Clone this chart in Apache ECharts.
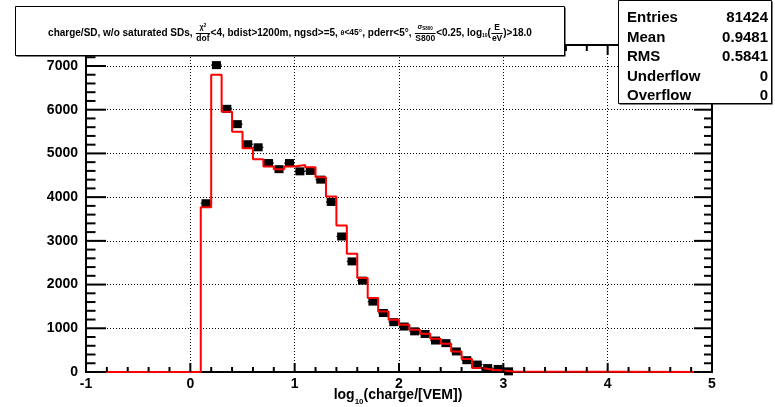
<!DOCTYPE html>
<html>
<head>
<meta charset="utf-8">
<script src="https://cdn.jsdelivr.net/npm/echarts@6/dist/echarts.min.js"></script>
<style>
  html, body { margin: 0; padding: 0; background: #fff; }
  #chart { width: 775px; height: 407px; }
</style>
</head>
<body>
<div id="chart"></div>
<script>
// Histogram binning: lower edges of the filled bins (width 0.1 in log10 charge)
const binWidth = 0.1;
const binLow = [0.1, 0.2, 0.3, 0.4, 0.5, 0.6, 0.7, 0.8, 0.9, 1.0,
                1.1, 1.2, 1.3, 1.4, 1.5, 1.6, 1.7, 1.8, 1.9, 2.0,
                2.1, 2.2, 2.3, 2.4, 2.5, 2.6, 2.7, 2.8, 2.9, 3.0];

// Measured counts per bin (black markers)
const dataCounts = [3860, 7020, 6020, 5670, 5210, 5140, 4780, 4640, 4780, 4590,
                    4600, 4400, 3890, 3100, 2530, 2090, 1610, 1350, 1140, 1040,
                    930, 870, 720, 660, 470, 270, 170, 90, 70, 15];

// Simulated counts per bin (red outline)
const mcCounts = [3770, 6800, 5955, 5498, 5119, 4867, 4699, 4639, 4699, 4737,
                  4685, 4456, 4013, 3350, 2703, 2148, 1691, 1385, 1195, 1081,
                  967, 875, 761, 647, 471, 297, 91, 53, 37, 14];

// Axis ranges and tick positions
const xRange = [-1, 5];
const yRange = [0, 7480];
const xMajorTicks = [-1, 0, 1, 2, 3, 4, 5];
const xMinorTicks = [-0.8, -0.6, -0.4, -0.2, 0.2, 0.4, 0.6, 0.8, 1.2, 1.4, 1.6, 1.8,
                     2.2, 2.4, 2.6, 2.8, 3.2, 3.4, 3.6, 3.8, 4.2, 4.4, 4.6, 4.8];
const yMajorTicks = [0, 1000, 2000, 3000, 4000, 5000, 6000, 7000];
const yMinorTicks = [200, 400, 600, 800, 1200, 1400, 1600, 1800, 2200, 2400, 2600, 2800,
                     3200, 3400, 3600, 3800, 4200, 4400, 4600, 4800, 5200, 5400, 5600, 5800,
                     6200, 6400, 6600, 6800, 7200, 7400];

// Statistics box
const statNames = ['Entries', 'Mean', 'RMS', 'Underflow', 'Overflow'];
const statValues = ['81424', '0.9481', '0.5841', '0', '0'];

const FONT = '"Liberation Sans", Arial, Helvetica, sans-serif';

// ---- outline of the simulated histogram as a step path ----
const mcPath = [[xRange[0], 0], [binLow[0], 0]];
binLow.forEach((lo, i) => {
  mcPath.push([lo, mcCounts[i]]);
  mcPath.push([lo + binWidth, mcCounts[i]]);
});
mcPath.push([binLow[binLow.length - 1] + binWidth, 0]);
mcPath.push([xRange[1], 0]);

const markerData = binLow.map((lo, i) => [lo + binWidth / 2, dataCounts[i]]);
const errData = binLow.map((lo, i) => [lo, lo + binWidth, dataCounts[i]]);

// frame ticks: [x, y, kind] with kind 1 = major, 0 = minor
const yTickData = yMajorTicks.map(v => [xRange[0], v, 1]).concat(yMinorTicks.map(v => [xRange[0], v, 0]));
const xTickData = xMajorTicks.map(v => [v, yRange[0], 1]).concat(xMinorTicks.map(v => [v, yRange[0], 0]));

// ---- small text layout helper for formula-like labels ----
const measureCtx = document.createElement('canvas').getContext('2d');
function fontOf(size) { return 'bold ' + size + 'px ' + FONT; }
function textW(t, size) { measureCtx.font = fontOf(size); return measureCtx.measureText(t).width; }
function runW(list) { return list.reduce((a, k) => a + textW(k.t, k.s), 0); }
function tokW(k) {
  if (k.num) return Math.max(runW(k.num), runW(k.den)) + 2;
  return textW(k.t, k.s);
}
function textEl(t, s, x, y) {
  return { type: 'text', silent: true, z: 100,
    style: { text: t, x: x, y: y, font: fontOf(s), fill: '#000',
             align: 'left', verticalAlign: 'middle', textAlign: 'left', textVerticalAlign: 'middle' } };
}
function layoutRun(list, x, y, out) {
  list.forEach(k => { out.push(textEl(k.t, k.s, x, y + (k.dy || 0))); x += textW(k.t, k.s); });
}
function layoutLine(tokens, cx, cy, fracGap) {
  const out = [];
  const total = tokens.reduce((a, k) => a + tokW(k), 0);
  let x = cx - total / 2;
  tokens.forEach(k => {
    const w = tokW(k);
    if (k.num) {
      const nw = runW(k.num), dw = runW(k.den);
      layoutRun(k.num, x + (w - nw) / 2, cy - fracGap, out);
      layoutRun(k.den, x + (w - dw) / 2, cy + fracGap, out);
      out.push({ type: 'line', silent: true, z: 100,
        shape: { x1: x + 0.5, y1: cy + 0.5, x2: x + w - 0.5, y2: cy + 0.5 },
        style: { stroke: '#000', lineWidth: 1 } });
    } else {
      out.push(textEl(k.t, k.s, x, cy + (k.dy || 0)));
    }
    x += w;
  });
  return out;
}

const M = 10;
const titleTokens = [
  { t: 'charge/SD, w/o saturated SDs, ', s: M },
  { num: [{ t: 'χ', s: 7 }, { t: '2', s: 5, dy: -2 }], den: [{ t: 'dof', s: 8.5 }] },
  { t: '<4, bdist>1200m, ngsd>=5, ', s: M },
  { t: 'θ', s: 7 },
  { t: '<45°', s: 8.5 },
  { t: ', pderr<5°, ', s: M },
  { num: [{ t: 'σ', s: 7 }, { t: 'S800', s: 4.5, dy: 1.5 }], den: [{ t: 'S800', s: 8.5 }] },
  { t: '<0.25, log', s: M },
  { t: '10', s: 5, dy: 3 },
  { t: '(', s: M },
  { num: [{ t: 'E', s: 8.5 }], den: [{ t: 'eV', s: 8.5 }] },
  { t: ')>18.0', s: M }
];

const axisTitleTokens = [
  { t: 'log', s: 14 },
  { t: '10', s: 8, dy: 7 },
  { t: '(charge/[VEM])', s: 14 }
];

const graphics = [];
// title box with a thin drop shadow
graphics.push({ type: 'rect', silent: true, z: 90, shape: { x: 16.5, y: 7.5, width: 549, height: 49 }, style: { fill: '#000' } });
graphics.push({ type: 'rect', silent: true, z: 91, shape: { x: 15.5, y: 6.5, width: 549, height: 49 }, style: { fill: '#fff', stroke: '#000', lineWidth: 1 } });
graphics.push(...layoutLine(titleTokens, 290, 33, 5.5));

// statistics box
graphics.push({ type: 'rect', silent: true, z: 90, shape: { x: 619.5, y: 1.5, width: 153, height: 103 }, style: { fill: '#000' } });
graphics.push({ type: 'rect', silent: true, z: 91, shape: { x: 618.5, y: 0.5, width: 153, height: 103 }, style: { fill: '#fff', stroke: '#000', lineWidth: 1 } });
statNames.forEach((n, i) => {
  const y = 18 + i * 19.5;
  graphics.push({ type: 'text', silent: true, z: 100,
    style: { text: n, x: 627, y: y, font: fontOf(15), fill: '#000', align: 'left', verticalAlign: 'middle', textAlign: 'left', textVerticalAlign: 'middle' } });
  graphics.push({ type: 'text', silent: true, z: 100,
    style: { text: statValues[i], x: 768, y: y, font: fontOf(15), fill: '#000', align: 'right', verticalAlign: 'middle', textAlign: 'right', textVerticalAlign: 'middle' } });
});

// x axis title
graphics.push(...layoutLine(axisTitleTokens, 398, 395, 0));

const gridDots = { type: [1, 2], color: '#000', width: 1 };
const frameLine = { show: true, onZero: false, lineStyle: { color: '#000', width: 2 } };
const yLabel = v => (yMajorTicks.indexOf(v) >= 0 ? String(v) : '');

// tick lengths in pixels: [major, minor] for each side of the frame
const TICK = { left: [20, 9.5], right: [18, 8], bottom: [9, 5], top: [10, 6] };

const chart = echarts.init(document.getElementById('chart'), null, { renderer: 'canvas' });
chart.setOption({
  animation: false,
  backgroundColor: '#fff',
  grid: { left: 86, right: 63, top: 45, bottom: 35, containLabel: false },
  xAxis: [
    {
      type: 'value', position: 'bottom', min: xRange[0], max: xRange[1], interval: 1,
      axisLine: frameLine, axisTick: { show: false },
      axisLabel: { show: true, formatter: v => String(v), color: '#000', fontFamily: FONT, fontWeight: 'bold', fontSize: 14, margin: 5 },
      splitLine: { show: true, lineStyle: gridDots }
    },
    {
      type: 'value', position: 'top', min: xRange[0], max: xRange[1], interval: 1,
      axisLine: frameLine, axisTick: { show: false }, axisLabel: { show: false }, splitLine: { show: false }
    }
  ],
  yAxis: [
    {
      type: 'value', position: 'left', min: yRange[0], max: yRange[1], interval: 1000,
      axisLine: frameLine, axisTick: { show: false },
      axisLabel: { show: true, formatter: yLabel, showMaxLabel: false, color: '#000', fontFamily: FONT, fontWeight: 'bold', fontSize: 14, margin: 8 },
      splitLine: { show: true, lineStyle: gridDots }
    },
    {
      type: 'value', position: 'right', min: yRange[0], max: yRange[1], interval: 1000,
      axisLine: frameLine, axisTick: { show: false }, axisLabel: { show: false }, splitLine: { show: false }
    }
  ],
  series: [
    {
      name: 'y ticks', type: 'custom', xAxisIndex: 0, yAxisIndex: 0, z: 6, clip: false, silent: true,
      renderItem: function (params, api) {
        const major = api.value(2) === 1;
        const l = api.coord([xRange[0], api.value(1)]);
        const r = api.coord([xRange[1], api.value(1)]);
        const ll = major ? TICK.left[0] : TICK.left[1];
        const rl = major ? TICK.right[0] : TICK.right[1];
        return { type: 'group', children: [
          { type: 'line', shape: { x1: l[0], y1: l[1], x2: l[0] + ll, y2: l[1] }, style: { stroke: '#000', lineWidth: 2 } },
          { type: 'line', shape: { x1: r[0] - rl, y1: r[1], x2: r[0], y2: r[1] }, style: { stroke: '#000', lineWidth: 2 } }
        ] };
      },
      data: yTickData
    },
    {
      name: 'x ticks', type: 'custom', xAxisIndex: 0, yAxisIndex: 0, z: 6, clip: false, silent: true,
      renderItem: function (params, api) {
        const major = api.value(2) === 1;
        const b = api.coord([api.value(0), yRange[0]]);
        const t = api.coord([api.value(0), yRange[1]]);
        const bl = major ? TICK.bottom[0] : TICK.bottom[1];
        const tl = major ? TICK.top[0] : TICK.top[1];
        return { type: 'group', children: [
          { type: 'line', shape: { x1: b[0], y1: b[1], x2: b[0], y2: b[1] - bl }, style: { stroke: '#000', lineWidth: 2 } },
          { type: 'line', shape: { x1: t[0], y1: t[1], x2: t[0], y2: t[1] + tl }, style: { stroke: '#000', lineWidth: 2 } }
        ] };
      },
      data: xTickData
    },
    {
      name: 'data errors', type: 'custom', xAxisIndex: 0, yAxisIndex: 0, z: 2,
      renderItem: function (params, api) {
        const a = api.coord([api.value(0), api.value(2)]);
        const b = api.coord([api.value(1), api.value(2)]);
        return { type: 'line', shape: { x1: a[0], y1: a[1], x2: b[0], y2: b[1] },
                 style: { stroke: '#000', lineWidth: 1.2 } };
      },
      encode: { x: [0, 1], y: 2 },
      data: errData
    },
    {
      name: 'data', type: 'scatter', xAxisIndex: 0, yAxisIndex: 0, z: 3,
      symbol: 'rect', symbolSize: [9, 8],
      itemStyle: { color: '#000', opacity: 1 },
      data: markerData
    },
    {
      name: 'simulation', type: 'line', xAxisIndex: 0, yAxisIndex: 0, z: 4,
      showSymbol: false, symbol: 'none',
      lineStyle: { color: '#ff0000', width: 2 },
      data: mcPath
    }
  ],
  graphic: graphics
});
</script>
</body>
</html>
